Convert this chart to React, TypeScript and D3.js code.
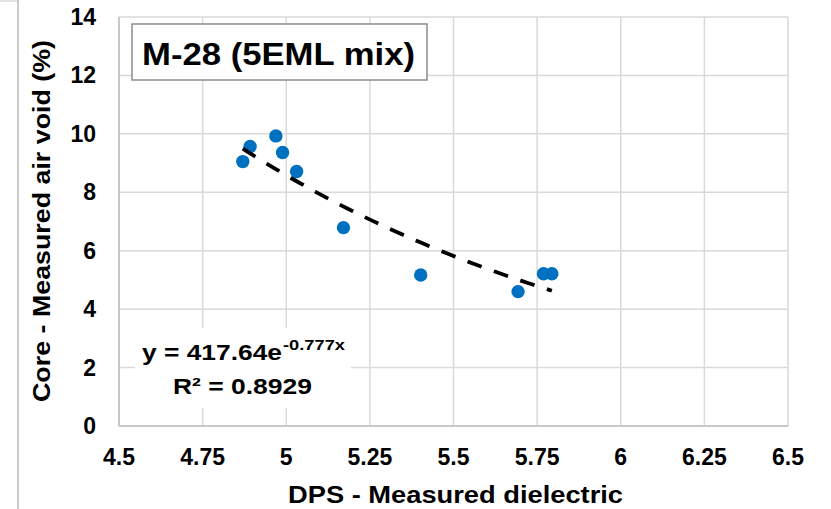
import React from "react";
import * as d3 from "d3";

const dielectric = [4.87, 4.892, 4.969, 4.989, 5.031, 5.171, 5.402, 5.693, 5.769, 5.794];
const airVoid = [9.05, 9.57, 9.93, 9.36, 8.71, 6.79, 5.17, 4.6, 5.21, 5.21];
const xTicks = [4.5, 4.75, 5, 5.25, 5.5, 5.75, 6, 6.25, 6.5];
const xTickLabels = ["4.5", "4.75", "5", "5.25", "5.5", "5.75", "6", "6.25", "6.5"];
const yTicks = [0, 2, 4, 6, 8, 10, 12, 14];
const fitA = 417.64;
const fitB = -0.777;
const rSquared = "0.8929";
const title = "M-28 (5EML mix)";
const xTitle = "DPS - Measured dielectric";
const yTitle = "Core - Measured air void (%)";

const W = 831;
const H = 509;
const L = 119, R = 788, T = 17, B = 426;

export default function App() {
  const x = d3.scaleLinear().domain([4.5, 6.5]).range([L, R]);
  const y = d3.scaleLinear().domain([0, 14]).range([B, T]);
  const xMin = d3.min(dielectric)!;
  const xMax = d3.max(dielectric)!;
  const fitPts = d3.range(0, 51).map((i) => {
    const xv = xMin + ((xMax - xMin) * i) / 50;
    return [xv, fitA * Math.exp(fitB * xv)] as [number, number];
  });
  const line = d3
    .line<[number, number]>()
    .x((d) => x(d[0]))
    .y((d) => y(d[1]));
  const font = "'Liberation Sans', Arial, sans-serif";
  return (
    <svg
      width={W}
      height={H}
      style={{ position: "absolute", left: 0, top: 0, background: "#fff" }}
      fontFamily={font}
    >
      <rect x={0} y={0} width={W} height={H} fill="#fff" />
      <line x1={18} x2={18} y1={0} y2={H} stroke="#a6a6a6" strokeWidth={1.2} />
      <line x1={0} x2={18} y1={1} y2={1} stroke="#c8c8c8" strokeWidth={1} />
      {/* gridlines */}
      {xTicks.map((t) => (
        <line key={"gx" + t} x1={x(t)} x2={x(t)} y1={T} y2={B} stroke="#d9d9d9" strokeWidth={1.5} />
      ))}
      {yTicks.map((t) => (
        <line key={"gy" + t} x1={L} x2={R} y1={y(t)} y2={y(t)} stroke="#d9d9d9" strokeWidth={1.5} />
      ))}
      {/* axes */}
      <line x1={L} x2={L} y1={T} y2={B} stroke="#bfbfbf" strokeWidth={1.5} />
      <line x1={L} x2={R} y1={B} y2={B} stroke="#bfbfbf" strokeWidth={1.5} />
      {/* tick labels */}
      {yTicks.map((t) => (
        <text key={"ty" + t} x={96} y={y(t) + 8} textAnchor="end" fontSize={23} fontWeight="bold" fill="#000">
          {t}
        </text>
      ))}
      {xTicks.map((t, i) => (
        <text key={"tx" + t} x={x(t)} y={465} textAnchor="middle" fontSize={23} fontWeight="bold" fill="#000">
          {xTickLabels[i]}
        </text>
      ))}
      <text
        x={455.5}
        y={503}
        textAnchor="middle"
        fontSize={24}
        fontWeight="bold"
        fill="#000"
        textLength={335}
        lengthAdjust="spacingAndGlyphs"
      >
        {xTitle}
      </text>
      <text
        transform={`translate(50, 221) rotate(-90)`}
        textAnchor="middle"
        fontSize={24}
        fontWeight="bold"
        fill="#000"
        textLength={362}
        lengthAdjust="spacingAndGlyphs"
      >
        {yTitle}
      </text>
      {/* title box */}
      <rect x={132} y={24} width={295} height={56} fill="#fff" stroke="#8c8c8c" strokeWidth={1.5} />
      <text
        x={142}
        y={65}
        fontSize={32}
        fontWeight="bold"
        fill="#000"
        textLength={273}
        lengthAdjust="spacingAndGlyphs"
      >
        {title}
      </text>
      {/* points */}
      {dielectric.map((d, i) => (
        <circle key={"p" + i} cx={x(d)} cy={y(airVoid[i])} r={6.7} fill="#0070C0" />
      ))}
      {/* trendline */}
      <path
        d={line(fitPts) || ""}
        fill="none"
        stroke="#000"
        strokeWidth={3.8}
        strokeDasharray="15,13"
      />
      {/* equation label */}
      <rect x={135} y={328} width={216} height={80} fill="#fff" />
      <text
        x={142}
        y={360}
        fontSize={22}
        fontWeight="bold"
        fill="#000"
        textLength={140}
        lengthAdjust="spacingAndGlyphs"
      >
        y = 417.64e
      </text>
      <text
        x={283}
        y={350}
        fontSize={15}
        fontWeight="bold"
        fill="#000"
        textLength={62}
        lengthAdjust="spacingAndGlyphs"
      >
        -0.777x
      </text>
      <text
        x={173}
        y={394}
        fontSize={22}
        fontWeight="bold"
        fill="#000"
        textLength={139}
        lengthAdjust="spacingAndGlyphs"
      >
        R² = {rSquared}
      </text>
    </svg>
  );
}
